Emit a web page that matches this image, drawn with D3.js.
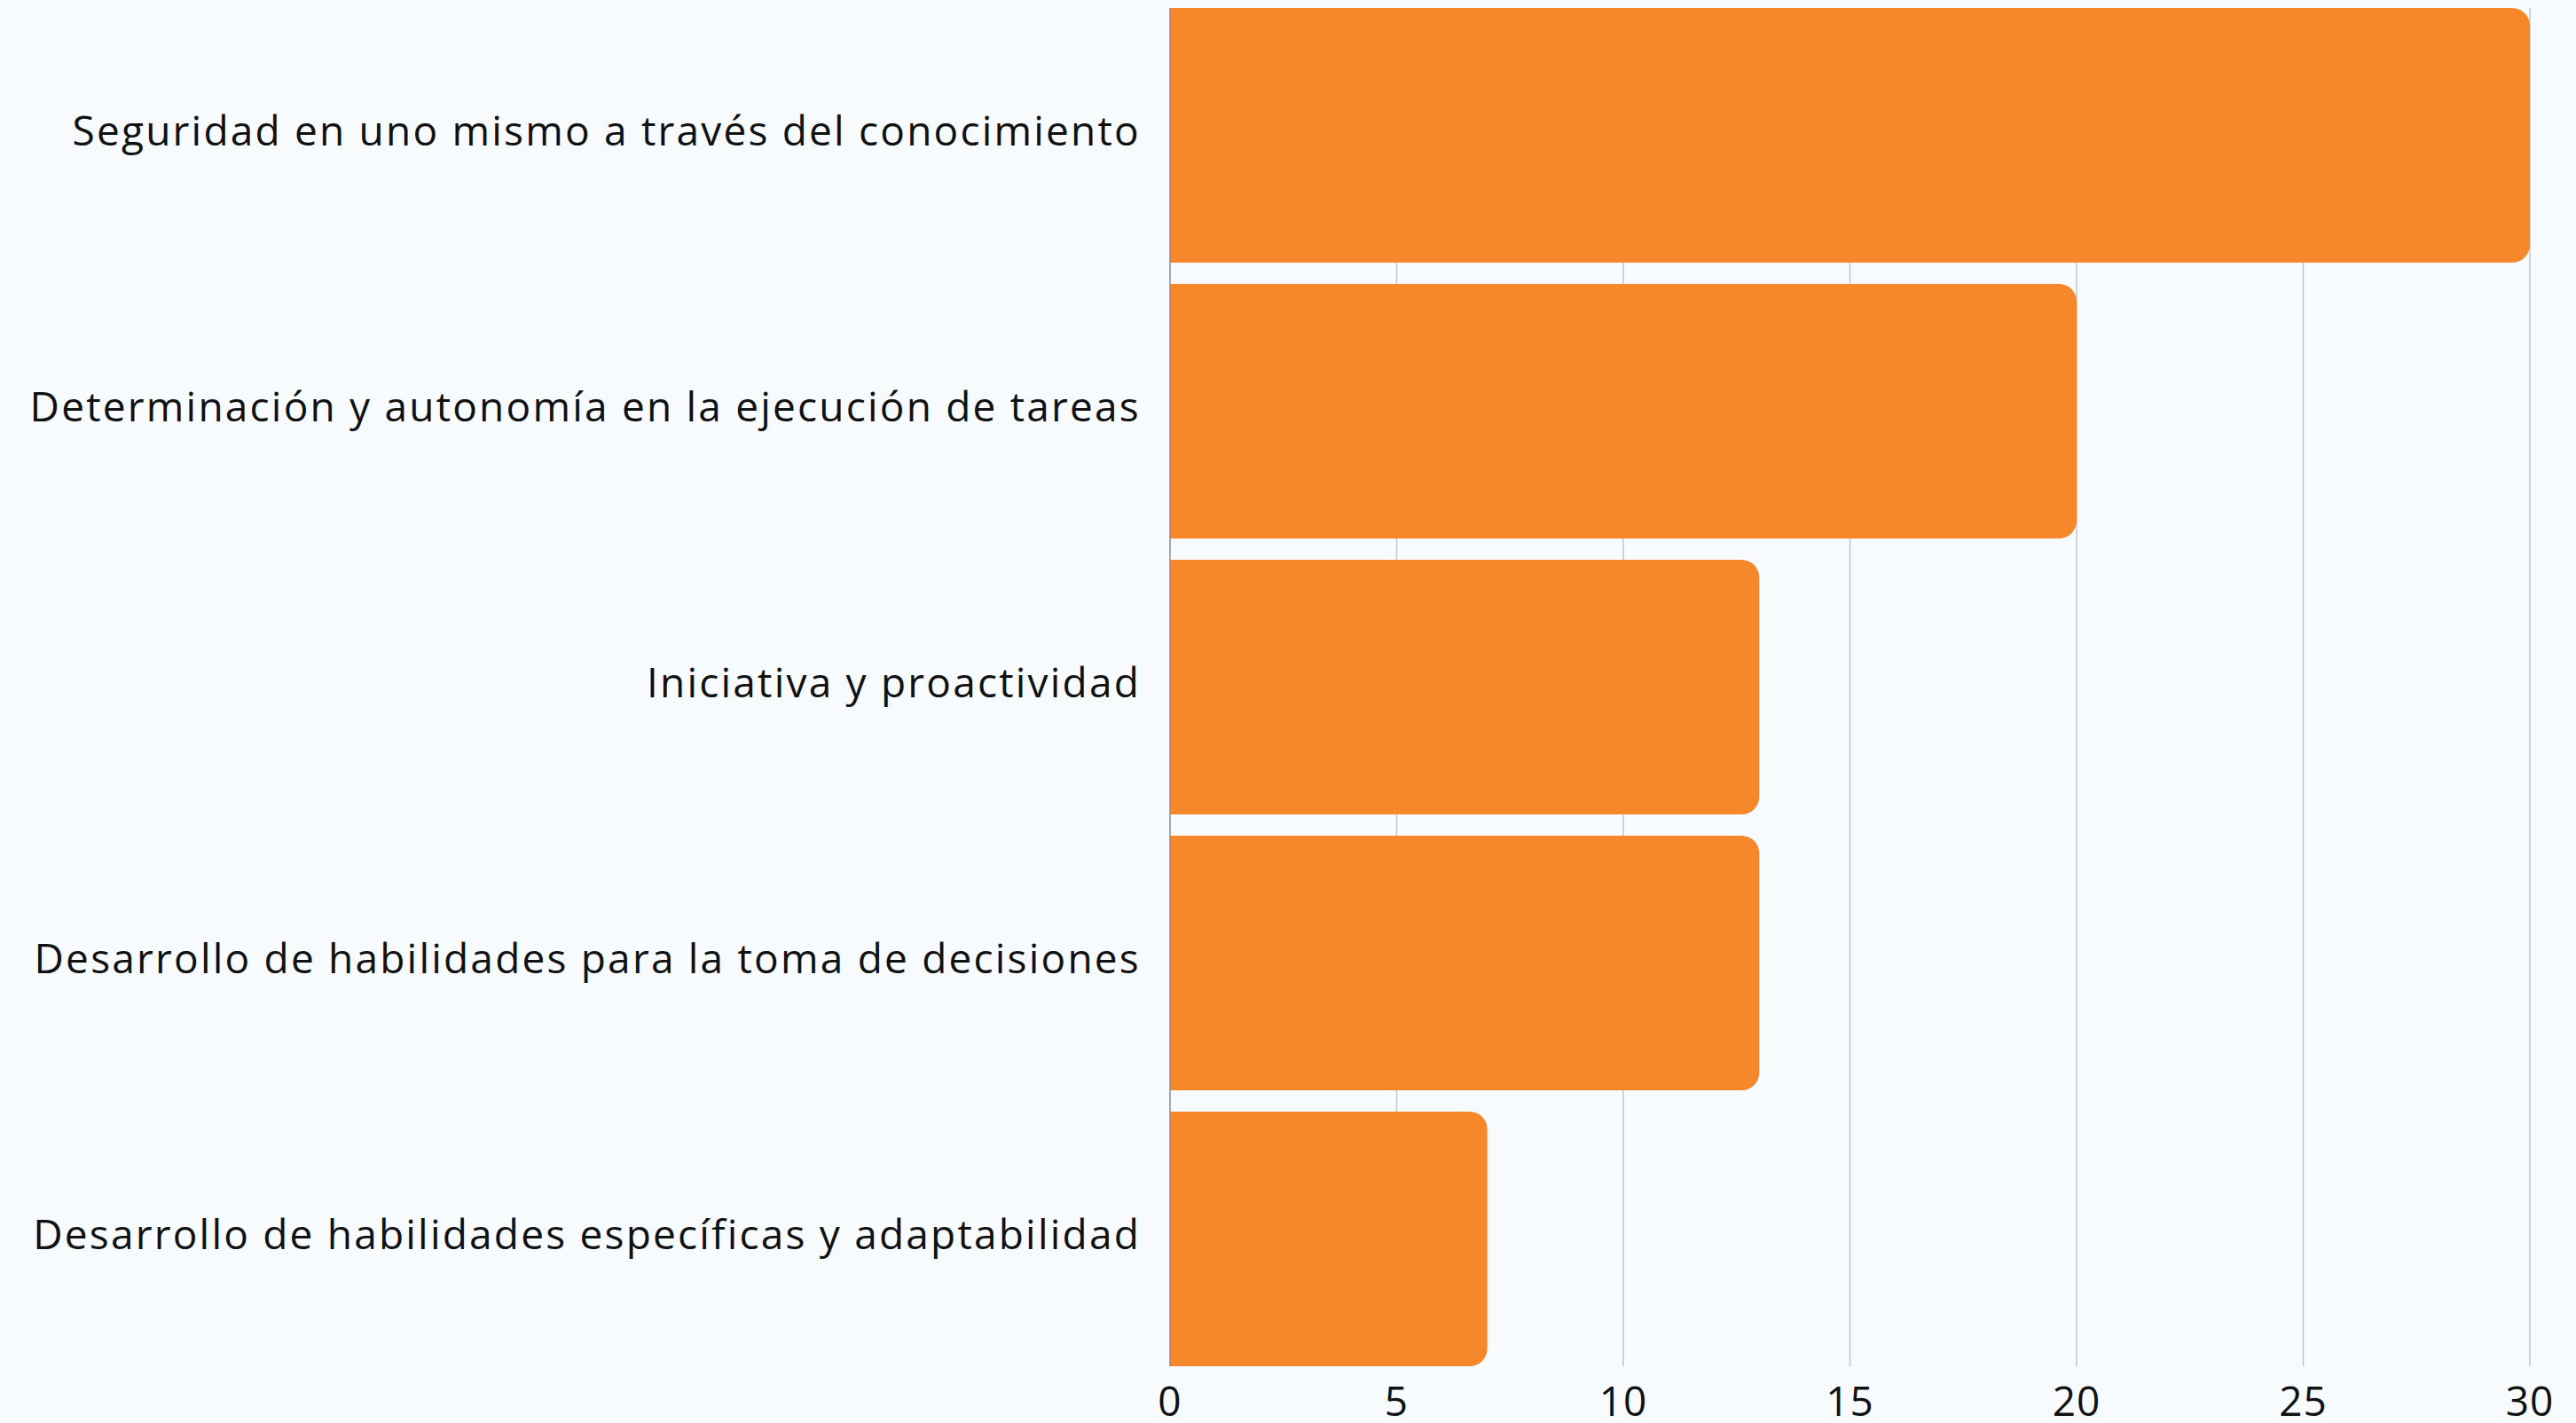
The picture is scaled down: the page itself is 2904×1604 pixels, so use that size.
<!DOCTYPE html>
<html>
<head>
<meta charset="utf-8">
<script src="https://cdn.jsdelivr.net/npm/d3@7"></script>
<style>
  body { margin: 0; background: #f7fbfe; }
  svg { display: block; }
  .cat-label { font-family: "Open Sans", sans-serif; font-size: 46px; letter-spacing: 2.2px; fill: #111; }
  .tick-label { font-family: "Open Sans", sans-serif; font-size: 46px; letter-spacing: 1px; fill: #111; }
</style>
</head>
<body>
<svg id="chart"></svg>
<script>
var categories = [
  "Seguridad en uno mismo a través del conocimiento",
  "Determinación y autonomía en la ejecución de tareas",
  "Iniciativa y proactividad",
  "Desarrollo de habilidades para la toma de decisiones",
  "Desarrollo de habilidades específicas y adaptabilidad"
];
var values = [30, 20, 13, 13, 7];
var tickValues = [0, 5, 10, 15, 20, 25, 30];

var width = 2904, height = 1604;
var margin = {top: 9, right: 52, bottom: 64, left: 1319};

var svg = d3.select("#chart")
  .attr("width", width)
  .attr("height", height);

svg.append("rect")
  .attr("width", width)
  .attr("height", height)
  .attr("fill", "#f7fbfe");

var x = d3.scaleLinear()
  .domain([0, 30])
  .range([margin.left, width - margin.right]);

var y = d3.scaleBand()
  .domain(categories)
  .range([margin.top, height - margin.bottom])
  .paddingInner(0.077)
  .paddingOuter(0);

// gridlines
svg.append("g")
  .selectAll("line")
  .data(tickValues.filter(function(d){ return d > 0; }))
  .enter().append("line")
  .attr("x1", function(d){ return x(d); })
  .attr("x2", function(d){ return x(d); })
  .attr("y1", margin.top)
  .attr("y2", height - margin.bottom)
  .attr("stroke", "#c3c7cb")
  .attr("stroke-width", 1.5);

// bars, rounded on the right side only
var r = 20;
function barPath(d, i) {
  var x0 = x(0), x1 = x(values[i]), y0 = y(d), h = y.bandwidth();
  var rr = Math.min(r, (x1 - x0) / 2, h / 2);
  return "M" + x0 + "," + y0 +
         "H" + (x1 - rr) +
         "A" + rr + "," + rr + " 0 0 1 " + x1 + "," + (y0 + rr) +
         "V" + (y0 + h - rr) +
         "A" + rr + "," + rr + " 0 0 1 " + (x1 - rr) + "," + (y0 + h) +
         "H" + x0 + "Z";
}

svg.append("g")
  .selectAll("path")
  .data(categories)
  .enter().append("path")
  .attr("d", barPath)
  .attr("fill", "#f6872b");

// baseline axis at zero
svg.append("line")
  .attr("x1", x(0)).attr("x2", x(0))
  .attr("y1", margin.top).attr("y2", height - margin.bottom)
  .attr("stroke", "#8a8d90")
  .attr("stroke-width", 1.5);

// category labels
svg.append("g")
  .selectAll("text")
  .data(categories)
  .enter().append("text")
  .attr("class", "cat-label")
  .attr("x", x(0) - 33)
  .attr("y", function(d){ return y(d) + y.bandwidth() / 2; })
  .attr("dy", "0.24em")
  .attr("text-anchor", "end")
  .text(function(d){ return d; });

// x tick labels
svg.append("g")
  .selectAll("text")
  .data(tickValues)
  .enter().append("text")
  .attr("class", "tick-label")
  .attr("x", function(d){ return x(d); })
  .attr("y", 1596)
  .attr("text-anchor", "middle")
  .text(function(d){ return d; });
</script>
</body>
</html>
